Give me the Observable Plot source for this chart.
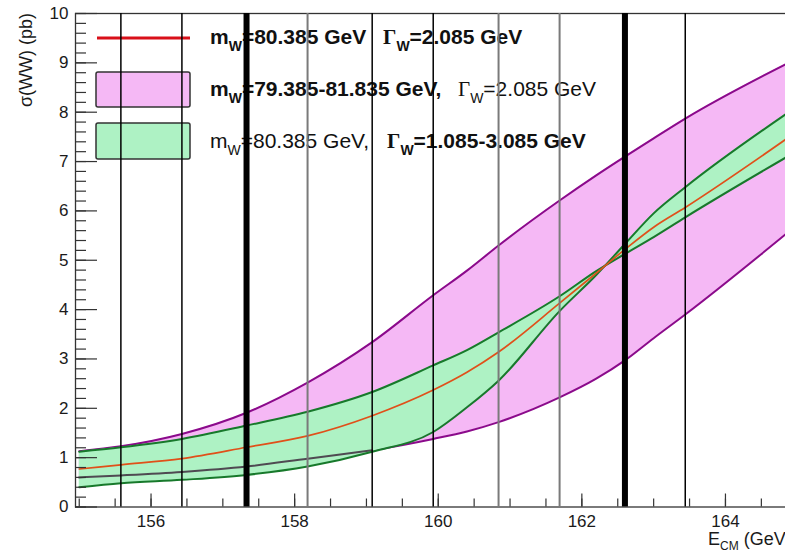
<!DOCTYPE html>
<html><head><meta charset="utf-8">
<script src="https://cdn.jsdelivr.net/npm/d3@7"></script>
<script src="https://cdn.jsdelivr.net/npm/@observablehq/plot@0.6"></script>
<style>
body{margin:0;background:#fff;}
#chart{position:relative;width:785px;height:551px;overflow:hidden;}
</style>
</head><body><div id="chart"></div>
<script>
// Centre-of-mass energies (GeV) at which the curves are sampled
const energy = [155.0, 155.58, 156.43, 157.33, 158.18, 159.08, 159.93, 160.4, 160.84, 161.69, 162.2, 162.6, 163.0, 163.44, 164.85];
// sigma(WW) in pb
const sigmaCentral = [0.77, 0.855, 0.98, 1.21, 1.44, 1.85, 2.37, 2.73, 3.14, 4.13, 4.74, 5.22, 5.67, 6.07, 7.46];      // mW=80.385, ΓW=2.085
const sigmaMwLow   = [1.13, 1.23, 1.48, 1.91, 2.52, 3.34, 4.29, 4.79, 5.30, 6.21, 6.72, 7.10, 7.47, 7.87, 8.98];       // mW=79.385
const sigmaMwHigh  = [0.60, 0.64, 0.71, 0.82, 0.98, 1.15, 1.38, 1.53, 1.72, 2.22, 2.60, 2.97, 3.42, 3.90, 5.54];       // mW=81.835
const sigmaGammaNarrow = [0.40, 0.48, 0.55, 0.65, 0.82, 1.12, 1.52, 2.02, 2.56, 3.97, 4.70, 5.33, 5.95, 6.48, 7.97];   // ΓW=1.085
const sigmaGammaWide   = [1.12, 1.21, 1.38, 1.65, 1.93, 2.33, 2.87, 3.18, 3.54, 4.27, 4.78, 5.13, 5.47, 5.87, 7.09];   // ΓW=3.085
// Vertical marker lines (GeV)
const runsThin  = [155.58, 156.43, 159.08, 159.93, 163.44];
const runsGray  = [158.18, 160.84, 161.69];
const runsThick = [157.33, 162.6];
// Axis ticks
const xTicks = [156, 158, 160, 162, 164];
const xMinor = d3.range(0, 20).map(i => 155 + i * 0.5);
const yTicks = d3.range(0, 11);
const yMinor = d3.range(0, 51).map(i => i * 0.2);

const rows = energy.map((e, i) => ({
  e, c: sigmaCentral[i], mLo: sigmaMwLow[i], mHi: sigmaMwHigh[i],
  gN: sigmaGammaNarrow[i], gW: sigmaGammaWide[i]
}));

const W = 785, H = 551, mL = 75, mR = -3, mT = 13, mB = 44.5;
const pw = W - mL - mR, ph = H - mT - mB;
const curve = "monotone-x";
const font = "'Liberation Sans', Arial, Helvetica, sans-serif";

const plot = Plot.plot({
  width: W, height: H,
  marginLeft: mL, marginRight: mR, marginTop: mT, marginBottom: mB,
  style: {fontFamily: font, fontSize: "17px", color: "#1a1a1a", background: "#fff"},
  x: {domain: [154.948, 164.878]},
  y: {domain: [0, 10]},
  marks: [
    Plot.areaY(rows, {x: "e", y1: "mHi", y2: "mLo", fill: "#f5b8f5", curve}),
    Plot.line(rows, {x: "e", y: "mLo", stroke: "#8b0a8b", strokeWidth: 2, curve}),
    Plot.line(rows, {x: "e", y: "mHi", stroke: "#8b0a8b", strokeWidth: 2, curve}),
    Plot.areaY(rows, {x: "e", y1: "gN", y2: "gW", fill: "#aef2c4", curve}),
    Plot.line(rows.filter(d => d.mHi >= d.gN), {x: "e", y: "mHi", stroke: "#4f4a52", strokeWidth: 2, curve}),
    Plot.line(rows, {x: "e", y: "gN", stroke: "#17792b", strokeWidth: 2, curve}),
    Plot.line(rows, {x: "e", y: "gW", stroke: "#17792b", strokeWidth: 2, curve}),
    Plot.line(rows, {x: "e", y: "c", stroke: "#e0501a", strokeWidth: 1.7, curve}),
    Plot.frame({stroke: "#333", strokeWidth: 1.3}),
    Plot.tickY(yMinor, {y: d => d, insetRight: pw - 11, stroke: "#333", strokeWidth: 1.2}),
    Plot.tickY(yTicks, {y: d => d, insetRight: pw - 22, stroke: "#333", strokeWidth: 1.2}),
    Plot.tickX(xMinor, {x: d => d, insetTop: ph - 8, stroke: "#333", strokeWidth: 1.2}),
    Plot.tickX(xTicks, {x: d => d, insetTop: ph - 13, stroke: "#333", strokeWidth: 1.2}),
    Plot.axisY({ticks: yTicks, tickSize: 0, tickPadding: 7, label: null, fontSize: 17}),
    Plot.axisX({ticks: xTicks, tickSize: 0, tickPadding: 8, label: null, fontSize: 17}),
    Plot.ruleX(runsThin, {x: d => d, stroke: "#000", strokeWidth: 1.5}),
    Plot.ruleX(runsGray, {x: d => d, stroke: "#7a7a7a", strokeWidth: 2}),
    Plot.ruleX(runsThick, {x: d => d, stroke: "#000", strokeWidth: 6})
  ]
});

document.getElementById("chart").appendChild(plot);
const svg = d3.select(plot);

// Legend (inserted beneath the vertical marker lines)
const lg = svg.insert("g", 'g[aria-label="rule"]')
  .attr("font-family", font).attr("font-size", 21).attr("fill", "#111")
  .attr("text-anchor", "start");
lg.append("line").attr("x1", 97).attr("x2", 190).attr("y1", 38).attr("y2", 38)
  .attr("stroke", "#d9101a").attr("stroke-width", 3);
lg.append("rect").attr("x", 96).attr("y", 72).attr("width", 94).attr("height", 35).attr("rx", 2)
  .attr("fill", "#f5b8f5").attr("stroke", "#333").attr("stroke-width", 1.5);
lg.append("rect").attr("x", 96).attr("y", 123).attr("width", 94).attr("height", 36).attr("rx", 2)
  .attr("fill", "#aef2c4").attr("stroke", "#333").attr("stroke-width", 1.5);

function entry(y, gx, boldM, boldG, mText, gText) {
  const t = lg.append("text").attr("x", 210).attr("y", y).attr("text-anchor", "start");
  const wM = boldM ? "bold" : "normal", wG = boldG ? "bold" : "normal";
  t.append("tspan").attr("font-weight", wM).text("m");
  t.append("tspan").attr("font-weight", wM).attr("font-size", 14).attr("dy", 7).text("W");
  t.append("tspan").attr("font-weight", wM).attr("dy", -7).text(mText);
  t.append("tspan").attr("x", gx).attr("font-weight", wG).attr("font-family", "'Liberation Serif', 'Times New Roman', serif").text("Γ");
  t.append("tspan").attr("font-weight", wG).attr("font-size", 14).attr("dy", 7).text("W");
  t.append("tspan").attr("font-weight", wG).attr("dy", -7).text(gText);
}
entry(44, 383, true, true, "=80.385 GeV", "=2.085 GeV");
entry(95.5, 458, true, false, "=79.385-81.835 GeV,", "=2.085 GeV");
entry(148, 387, false, true, "=80.385 GeV,", "=1.085-3.085 GeV");

// Axis titles
svg.append("text").attr("transform", "translate(32,13) rotate(-90)")
  .attr("text-anchor", "end").attr("font-family", font).attr("font-size", 18).attr("fill", "#1a1a1a")
  .text("σ(WW) (pb)");
const xt = svg.append("text").attr("x", 708).attr("y", 545).attr("text-anchor", "start")
  .attr("font-family", font).attr("font-size", 18).attr("fill", "#1a1a1a");
xt.append("tspan").text("E");
xt.append("tspan").attr("font-size", 12).attr("dy", 5).text("CM");
xt.append("tspan").attr("dy", -5).text(" (GeV)");
</script>
</body></html>
